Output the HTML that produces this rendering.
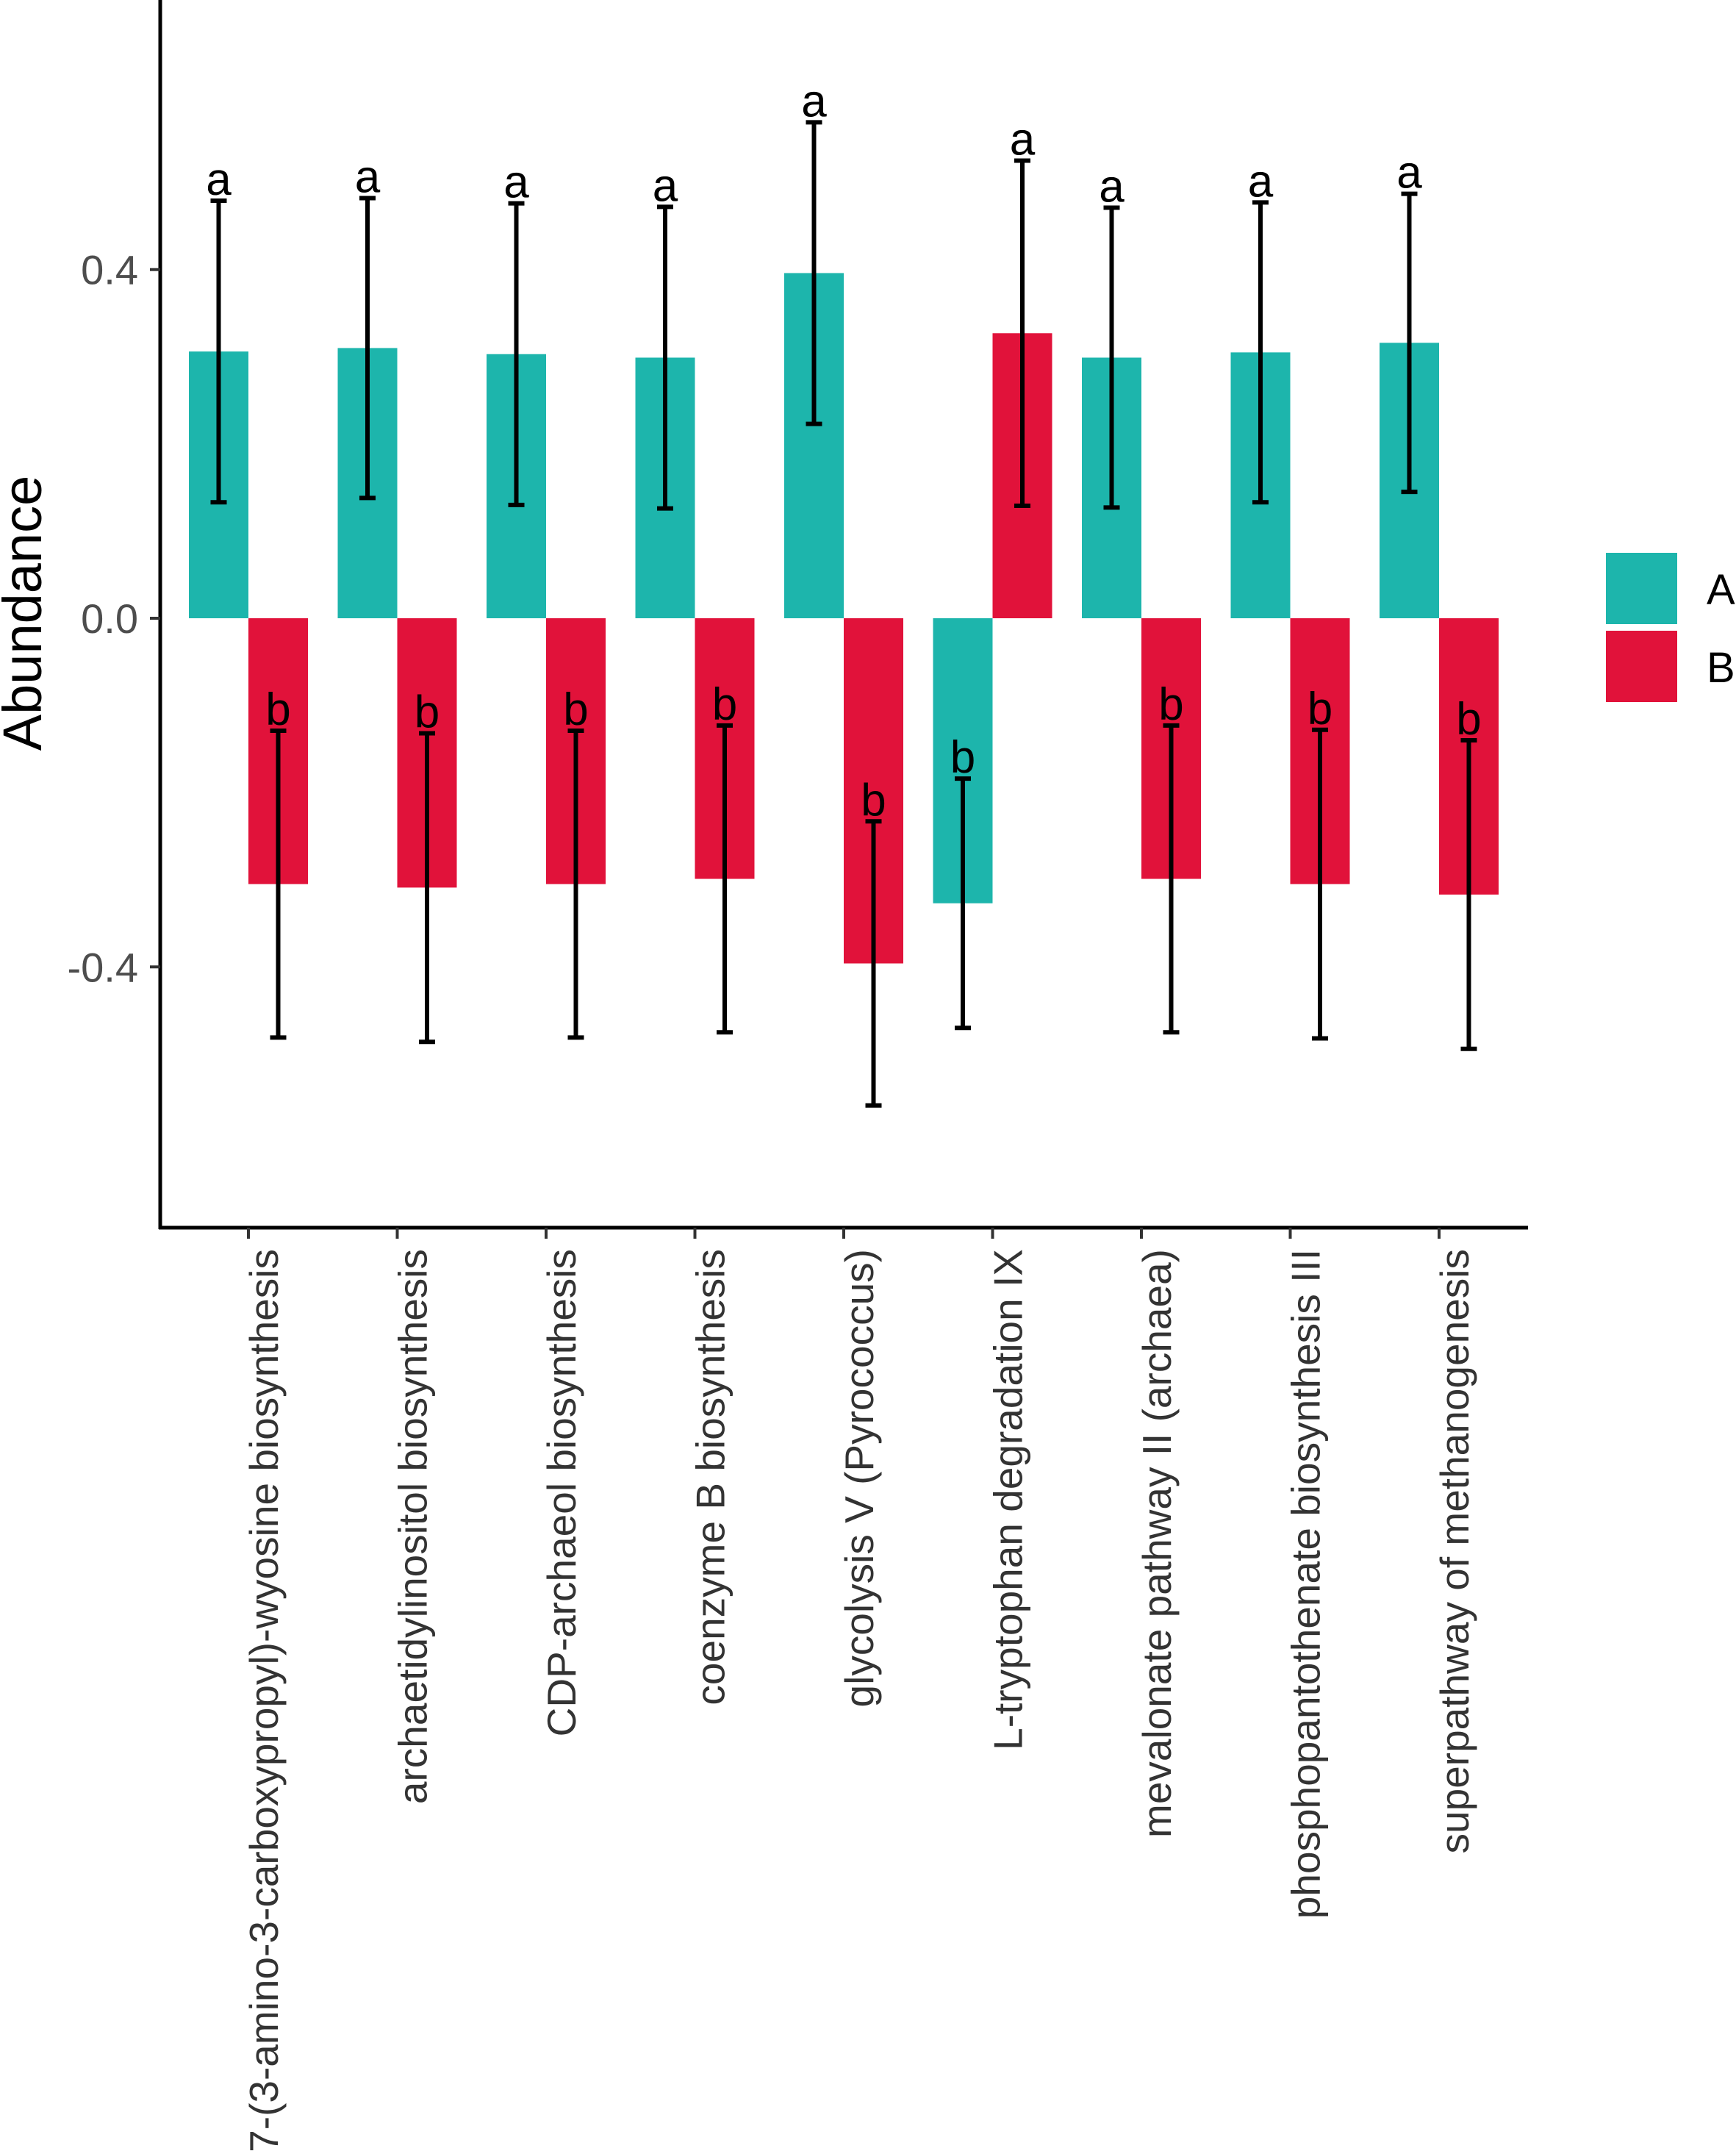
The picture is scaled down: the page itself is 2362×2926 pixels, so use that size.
<!DOCTYPE html>
<html><head><meta charset="utf-8"><style>
html,body{margin:0;padding:0;background:#fff;}
svg{display:block;font-family:"Liberation Sans",Arial,sans-serif;}
</style></head><body>
<svg id="chart" width="2362" height="2926" viewBox="0 0 2362 2926" xmlns="http://www.w3.org/2000/svg">
<g id="plot"></g>
</svg>
<script>
const categories = ["7-(3-amino-3-carboxypropyl)-wyosine biosynthesis","archaetidylinositol biosynthesis","CDP-archaeol biosynthesis","coenzyme B biosynthesis","glycolysis V (Pyrococcus)","L-tryptophan degradation IX","mevalonate pathway II (archaea)","phosphopantothenate biosynthesis III","superpathway of methanogenesis"];
const valuesA = [0.306,0.310,0.303,0.299,0.396,-0.327,0.299,0.305,0.316];
const errA = [0.173,0.172,0.173,0.173,0.173,0.143,0.172,0.172,0.171];
const lettersA = ["a","a","a","a","a","b","a","a","a"];
const valuesB = [-0.305,-0.309,-0.305,-0.299,-0.396,0.327,-0.299,-0.305,-0.317];
const errB = [0.176,0.177,0.176,0.176,0.163,0.198,0.176,0.177,0.177];
const lettersB = ["b","b","b","b","b","a","b","b","b"];
const yTicks = [0.4,0.0,-0.4];
const yTickLabels = ["0.4","0.0","-0.4"];
const groups = ["A","B"];

const NS="http://www.w3.org/2000/svg";
const g=document.getElementById('plot');
const X0=218, X1=2079, YTOP=0, YBOT=1670;
const y0=841, unit=1185.7;
function yScale(v){return y0 - v*unit;}
const xStart=338, xStep=202.5, barW=81;
function xCenter(i){return xStart + i*xStep;}
const colA="#1DB5AC", colB="#E1123A";
function mk(tag,attrs){const e=document.createElementNS(NS,tag);for(const k in attrs)e.setAttribute(k,attrs[k]);g.appendChild(e);return e;}

function drawSeries(vals,errs,letters,col,offset,name){
  vals.forEach((v,i)=>{
    const x=xCenter(i)+offset;
    const yv=yScale(v);
    const r=mk('rect',{x:x-barW/2,y:Math.min(yv,y0),width:barW,height:Math.abs(yv-y0),fill:col});
    
    
    const hi=yScale(v+errs[i]), lo=yScale(v-errs[i]);
    const eb=mk('path',{d:`M${x} ${hi}V${lo}M${x-11} ${hi}H${x+11}M${x-11} ${lo}H${x+11}`,stroke:'#000','stroke-width':6,fill:'none'});
    
    
    const t=mk('text',{x:x,y:hi-8,'text-anchor':'middle','font-size':62,fill:'#000'});
    t.textContent=letters[i];
    
    
  });
}
drawSeries(valuesA,errA,lettersA,colA,-barW/2,'a');
drawSeries(valuesB,errB,lettersB,colB,barW/2,'b');

const ya=mk('line',{x1:X0,y1:YTOP,x2:X0,y2:YBOT+2,stroke:'#000','stroke-width':5});


const xa=mk('line',{x1:X0-2,y1:YBOT,x2:X1,y2:YBOT,stroke:'#000','stroke-width':5});



yTicks.forEach((v,i)=>{
  const yy=yScale(v);
  const tk=mk('line',{x1:X0-14,y1:yy,x2:X0,y2:yy,stroke:'#333','stroke-width':4});
  
  
  const t=mk('text',{x:X0-30,y:yy+20,'text-anchor':'end','font-size':56,fill:'#4d4d4d'});
  t.textContent=yTickLabels[i];
  
  
});

categories.forEach((c,i)=>{
  const x=xCenter(i);
  const tk=mk('line',{x1:x,y1:YBOT,x2:x,y2:YBOT+15,stroke:'#333','stroke-width':4});
  
  
  const t=mk('text',{x:0,y:0,'text-anchor':'end','font-size':55,fill:'#333',transform:`translate(${x+40},1699) rotate(-90)`});
  t.textContent=c;
  
  
});

const yt=mk('text',{x:0,y:0,'text-anchor':'middle','font-size':74,fill:'#000',transform:'translate(56,834) rotate(-90)'});
yt.textContent='Abundance';



[[colA,752,822],[colB,858,928]].forEach((L,i)=>{
  const r=mk('rect',{x:2185,y:L[1],width:97,height:97,fill:L[0]});
  
  
  const t=mk('text',{x:2322,y:L[2],'font-size':58,fill:'#000'});
  t.textContent=groups[i];
  
  
});
</script>
</body></html>
